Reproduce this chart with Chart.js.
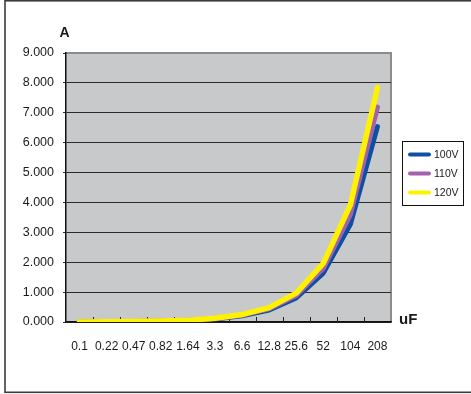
<!DOCTYPE html>
<html>
<head>
<meta charset="utf-8">
<script src="https://cdn.jsdelivr.net/npm/chart.js@4/dist/chart.umd.min.js"></script>
<style>
  html, body { margin: 0; padding: 0; background: #ffffff; }
  #wrap { width: 471px; height: 394px; position: relative; }
</style>
</head>
<body>
<div id="wrap"><canvas id="c" width="471" height="394"></canvas></div>
<script>
// Capacitance steps (uF)
const categories = ['0.1', '0.22', '0.47', '0.82', '1.64', '3.3', '6.6', '12.8', '25.6', '52', '104', '208'];

// Current (A) at each supply voltage
const current100V = [0.003, 0.007, 0.015, 0.026, 0.052, 0.104, 0.207, 0.402, 0.804, 1.634, 3.267, 6.535];
const current110V = [0.003, 0.008, 0.016, 0.028, 0.057, 0.114, 0.228, 0.442, 0.885, 1.797, 3.594, 7.188];
const current120V = [0.004, 0.008, 0.018, 0.031, 0.062, 0.124, 0.249, 0.483, 0.965, 1.960, 3.921, 7.841];

const seriesNames = ['100V', '110V', '120V'];
const seriesColors = ['#0d4fa3', '#a362ab', '#fff200'];

const yTicks = [0, 1, 2, 3, 4, 5, 6, 7, 8, 9];

const FONT = "'Liberation Sans', Arial, sans-serif";

// Plot background, frame, inside category ticks, axis captions, legend
const decorations = {
  id: 'decorations',
  beforeDraw(chart) {
    const { ctx, chartArea: a } = chart;
    ctx.save();
    // outer frame
    ctx.strokeStyle = '#3c3c3c';
    ctx.lineWidth = 1.6;
    ctx.strokeRect(5, 0.8, 520, 391.5);
    // plot area fill
    ctx.fillStyle = '#c8c9cb';
    ctx.fillRect(a.left, a.top, a.right - a.left, a.bottom - a.top);
    // grey top and right frame of plot area
    ctx.strokeStyle = '#8c8c8c';
    ctx.lineWidth = 2;
    ctx.beginPath();
    ctx.moveTo(a.left, a.top);
    ctx.lineTo(a.right, a.top);
    ctx.lineTo(a.right, a.bottom);
    ctx.stroke();
    ctx.restore();
  },
  beforeDatasetsDraw(chart) {
    const { ctx, chartArea: a, scales } = chart;
    const x = scales.x;
    const n = categories.length;
    const step = (a.right - a.left) / n;
    ctx.save();
    ctx.strokeStyle = '#222';
    ctx.lineWidth = 1;
    for (let i = 1; i < n; i++) {
      const px = Math.round(x.getPixelForValue(i) - step / 2) + 0.5;
      ctx.beginPath();
      ctx.moveTo(px, a.bottom);
      ctx.lineTo(px, a.bottom - 5);
      ctx.stroke();
    }
    ctx.restore();
  },
  afterDraw(chart) {
    const { ctx, chartArea: a } = chart;
    ctx.save();
    ctx.fillStyle = '#1a1a1a';
    ctx.textAlign = 'center';
    ctx.textBaseline = 'middle';
    ctx.font = 'bold 14px ' + FONT;
    ctx.fillText('A', a.left - 1.5, a.top - 20);
    ctx.font = 'bold 15px ' + FONT;
    ctx.textAlign = 'left';
    ctx.fillText('uF', a.right + 8, a.bottom - 2.5);

    // legend
    const bx = 402.5, by = 141.5, bw = 61, bh = 64;
    ctx.fillStyle = '#ffffff';
    ctx.fillRect(bx, by, bw, bh);
    ctx.strokeStyle = '#111';
    ctx.lineWidth = 1;
    ctx.strokeRect(bx, by, bw, bh);
    ctx.font = '10.5px ' + FONT;
    ctx.textBaseline = 'middle';
    chart.data.datasets.forEach((ds, i) => {
      const cy = 154.5 + i * 19;
      ctx.strokeStyle = ds.borderColor;
      ctx.lineWidth = 4;
      ctx.lineCap = 'round';
      ctx.beginPath();
      ctx.moveTo(410, cy);
      ctx.lineTo(429, cy);
      ctx.stroke();
      ctx.fillStyle = '#1a1a1a';
      ctx.fillText(ds.label, 434, cy + 0.5);
    });
    ctx.restore();
  }
};

const seriesData = [current100V, current110V, current120V];

new Chart(document.getElementById('c'), {
  type: 'line',
  data: {
    labels: categories,
    datasets: seriesData.map((d, i) => ({
      label: seriesNames[i],
      data: d,
      borderColor: seriesColors[i],
      backgroundColor: seriesColors[i],
      borderWidth: i === 2 ? 5.5 : 5,
      pointRadius: 0,
      tension: 0,
      borderCapStyle: 'round',
      borderJoinStyle: 'round',
      order: 2 - i
    }))
  },
  options: {
    responsive: false,
    animation: false,
    events: [],
    layout: { padding: { left: 0, top: 53, right: 80, bottom: 0 } },
    plugins: { legend: { display: false }, tooltip: { enabled: false }, title: { display: false } },
    scales: {
      x: {
        type: 'category',
        offset: true,
        grid: { display: false, drawOnChartArea: false },
        border: { display: true, color: '#111', width: 1.5 },
        ticks: {
          color: '#1a1a1a',
          font: { family: FONT, size: 12 },
          padding: 9,
          maxRotation: 0,
          autoSkip: false
        },
        afterFit(s) { s.height = 72; }
      },
      y: {
        min: 0,
        max: 9,
        afterBuildTicks(s) { s.ticks = yTicks.map(v => ({ value: v })); },
        grid: {
          color: ctx => (ctx.tick && ctx.tick.value === 9) ? '#8c8c8c' : '#2a2a2a',
          lineWidth: 1,
          drawTicks: true,
          tickLength: 3,
          tickColor: '#2a2a2a'
        },
        border: { display: true, color: '#111', width: 1.5 },
        ticks: {
          color: '#1a1a1a',
          font: { family: FONT, size: 12.5 },
          padding: 9,
          callback: v => Number(v).toFixed(3)
        },
        afterFit(s) { s.width = 66; }
      }
    }
  },
  plugins: [decorations]
});
</script>
</body>
</html>
